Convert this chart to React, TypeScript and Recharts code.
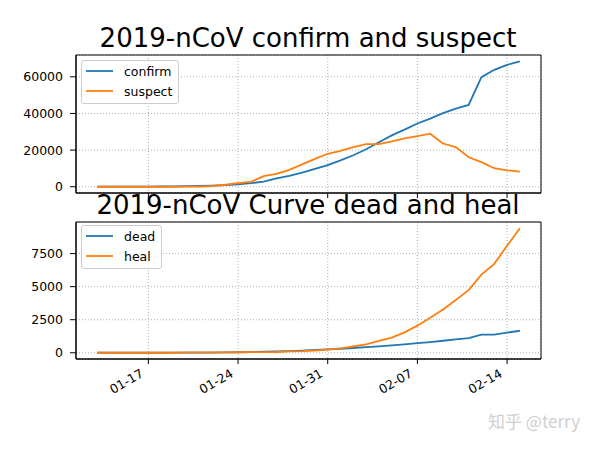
import { LineChart, Line, XAxis, YAxis, CartesianGrid, Legend, ReferenceArea } from "recharts";

const dates = [
  "01-13", "01-14", "01-15", "01-16", "01-17", "01-18", "01-19", "01-20", "01-21", "01-22",
  "01-23", "01-24", "01-25", "01-26", "01-27", "01-28", "01-29", "01-30", "01-31", "02-01",
  "02-02", "02-03", "02-04", "02-05", "02-06", "02-07", "02-08", "02-09", "02-10", "02-11",
  "02-12", "02-13", "02-14", "02-15",
];
const confirm = [
  41, 41, 41, 45, 62, 121, 198, 291, 440, 571,
  830, 1287, 1975, 2744, 4515, 5974, 7711, 9692, 11791, 14380,
  17205, 20438, 24324, 28018, 31161, 34546, 37198, 40171, 42638, 44653,
  59804, 63851, 66492, 68500,
];
const suspect = [
  0, 0, 0, 0, 0, 0, 0, 54, 37, 393,
  1072, 1965, 2684, 5794, 6973, 9239, 12167, 15238, 17988, 19544,
  21558, 23214, 23260, 24702, 26359, 27657, 28942, 23589, 21675, 16067,
  13435, 10109, 8969, 8228,
];
const dead = [
  1, 1, 2, 2, 2, 3, 4, 6, 9, 17,
  25, 41, 56, 80, 106, 132, 170, 213, 259, 304,
  361, 425, 490, 563, 636, 722, 811, 908, 1016, 1113,
  1367, 1380, 1523, 1665,
];
const heal = [
  0, 0, 0, 0, 0, 0, 0, 25, 25, 28,
  34, 38, 49, 51, 60, 103, 124, 171, 243, 328,
  475, 632, 892, 1153, 1540, 2050, 2649, 3281, 3996, 4740,
  5911, 6723, 8096, 9419,
];
const xTickLabels = ["01-17", "01-24", "01-31", "02-07", "02-14"];
const topYTicks = [0, 20000, 40000, 60000];
const bottomYTicks = [0, 2500, 5000, 7500];

const BLUE = "#1f77b4";
const ORANGE = "#ff7f0e";
const FONT = "'DejaVu Sans', sans-serif";

const data = dates.map((d, i) => ({
  day: i,
  date: d,
  confirm: confirm[i],
  suspect: suspect[i],
  dead: dead[i],
  heal: heal[i],
}));

const xTicks = xTickLabels.map((l) => dates.indexOf(l));

// matplotlib-style 5% margins
function padded(values: number[]): [number, number] {
  const lo = Math.min(...values);
  const hi = Math.max(...values);
  const m = (hi - lo) * 0.05;
  return [lo - m, hi + m];
}

const xDomain = padded(data.map((d) => d.day));
const topDomain = padded([...confirm, ...suspect]);
const bottomDomain = padded([...dead, ...heal]);

function LegendBox({ items }: { items: { name: string; color: string }[] }) {
  return (
    <div
      style={{
        background: "rgba(255,255,255,0.8)",
        border: "1px solid #cccccc",
        borderRadius: 3,
        padding: "0 6px 2px 4px",
        fontFamily: FONT,
        fontSize: 12.5,
        color: "#000",
        display: "inline-block",
      }}
    >
      {items.map((it) => (
        <div key={it.name} style={{ display: "flex", alignItems: "center", height: 20 }}>
          <svg width={27} height={4} style={{ display: "block" }}>
            <line x1={0} y1={2} x2={27} y2={2} stroke={it.color} strokeWidth={1.8} />
          </svg>
          <span style={{ marginLeft: 11 }}>{it.name}</span>
        </div>
      ))}
    </div>
  );
}

function DateTick(props: any) {
  const { x, y, payload } = props;
  const label = dates[payload.value];
  const ax = x - 4;
  const ay = y + 10;
  return (
    <text
      x={ax}
      y={ay}
      transform={`rotate(-30, ${ax}, ${ay})`}
      textAnchor="end"
      fontSize={12.5}
      fontFamily={FONT}
      fill="#000"
    >
      {label}
    </text>
  );
}

const yTickStyle = { fontSize: 12.5, fill: "#000", fontFamily: FONT };

export default function App() {
  return (
    <div style={{ position: "absolute", left: 0, top: 0, width: 600, height: 450, background: "#fff" }}>
      <div style={{ position: "absolute", left: 0, top: 0 }}>
        <LineChart width={600} height={200} data={data} margin={{ top: 55, right: 59, bottom: 0, left: 0 }}>
          <CartesianGrid stroke="#b0b0b0" strokeDasharray="1 2" />
          <XAxis
            type="number"
            dataKey="day"
            domain={xDomain}
            allowDataOverflow
            ticks={xTicks}
            height={7}
            tickFormatter={() => ""}
            tickSize={5}
            axisLine={{ stroke: "#000" }}
            tickLine={{ stroke: "#000" }}
          />
          <YAxis
            type="number"
            domain={topDomain}
            allowDataOverflow
            ticks={topYTicks}
            width={76}
            tick={yTickStyle}
            tickSize={6}
            tickMargin={7}
            axisLine={{ stroke: "#000" }}
            tickLine={{ stroke: "#000" }}
          />
          <ReferenceArea
            x1={xDomain[0]}
            x2={xDomain[1]}
            y1={topDomain[0]}
            y2={topDomain[1]}
            fill="none"
            stroke="#000"
            strokeWidth={1}
          />
          <Line type="linear" dataKey="confirm" name="confirm" stroke={BLUE} strokeWidth={1.8} dot={false} isAnimationActive={false} />
          <Line type="linear" dataKey="suspect" name="suspect" stroke={ORANGE} strokeWidth={1.8} dot={false} isAnimationActive={false} />
          <Legend
            layout="vertical"
            align="center"
            verticalAlign="middle"
            wrapperStyle={{ left: 81, top: 60, width: "auto", height: "auto" }}
            content={() => (
              <LegendBox items={[{ name: "confirm", color: BLUE }, { name: "suspect", color: ORANGE }]} />
            )}
          />
        </LineChart>
      </div>
      <div style={{ position: "absolute", left: 0, top: 200 }}>
        <LineChart width={600} height={250} data={data} margin={{ top: 22, right: 59, bottom: 0, left: 0 }}>
          <CartesianGrid stroke="#b0b0b0" strokeDasharray="1 2" />
          <XAxis
            type="number"
            dataKey="day"
            domain={xDomain}
            allowDataOverflow
            ticks={xTicks}
            height={91}
            tick={<DateTick />}
            tickSize={5}
            tickMargin={2}
            axisLine={{ stroke: "#000" }}
            tickLine={{ stroke: "#000" }}
          />
          <YAxis
            type="number"
            domain={bottomDomain}
            allowDataOverflow
            ticks={bottomYTicks}
            width={76}
            tick={yTickStyle}
            tickSize={6}
            tickMargin={7}
            axisLine={{ stroke: "#000" }}
            tickLine={{ stroke: "#000" }}
          />
          <ReferenceArea
            x1={xDomain[0]}
            x2={xDomain[1]}
            y1={bottomDomain[0]}
            y2={bottomDomain[1]}
            fill="none"
            stroke="#000"
            strokeWidth={1}
          />
          <Line type="linear" dataKey="dead" name="dead" stroke={BLUE} strokeWidth={1.8} dot={false} isAnimationActive={false} />
          <Line type="linear" dataKey="heal" name="heal" stroke={ORANGE} strokeWidth={1.8} dot={false} isAnimationActive={false} />
          <Legend
            layout="vertical"
            align="center"
            verticalAlign="middle"
            wrapperStyle={{ left: 81, top: 25, width: "auto", height: "auto" }}
            content={() => (
              <LegendBox items={[{ name: "dead", color: BLUE }, { name: "heal", color: ORANGE }]} />
            )}
          />
        </LineChart>
      </div>
      <svg
        width={600}
        height={450}
        style={{ position: "absolute", left: 0, top: 0, pointerEvents: "none" }}
      >
        <text x={308} y={46.5} textAnchor="middle" fontSize={26} fontFamily={FONT} fill="#000">
          2019-nCoV confirm and suspect
        </text>
        <text x={308} y={214} textAnchor="middle" fontSize={26} fontFamily={FONT} fill="#000">
          2019-nCoV Curve dead and heal
        </text>
        <text x={488} y={428} fontSize={17} fontFamily="'Noto Sans CJK SC', sans-serif" fill="#cfcfcf">
          知乎 @terry
        </text>
      </svg>
    </div>
  );
}
